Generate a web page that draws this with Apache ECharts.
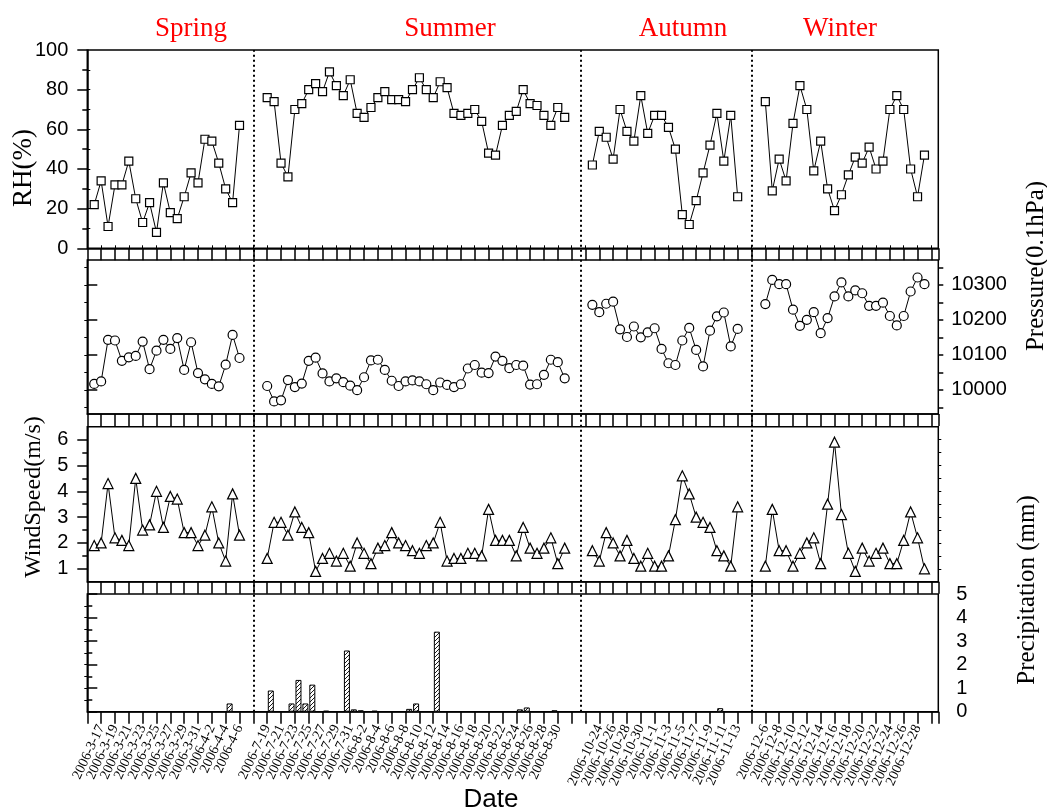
<!DOCTYPE html>
<html>
<head>
<meta charset="utf-8">
<script src="https://cdn.jsdelivr.net/npm/echarts@6/dist/echarts.min.js"></script>
<style>html,body{margin:0;padding:0;background:#fff}#chart{width:1047px;height:811px}</style>
</head>
<body>
<div id="chart"></div>
<script>
// ---------------- DATA ----------------
const seasons = ['Spring', 'Summer', 'Autumn', 'Winter'];

const springDates = ['2006-3-16','2006-3-17','2006-3-18','2006-3-19','2006-3-20','2006-3-21','2006-3-22','2006-3-23','2006-3-24','2006-3-25','2006-3-26','2006-3-27','2006-3-28','2006-3-29','2006-3-30','2006-3-31','2006-4-1','2006-4-2','2006-4-3','2006-4-4','2006-4-5','2006-4-6'];
const summerDates = ['2006-7-19','2006-7-20','2006-7-21','2006-7-22','2006-7-23','2006-7-24','2006-7-25','2006-7-26','2006-7-27','2006-7-28','2006-7-29','2006-7-30','2006-7-31','2006-8-1','2006-8-2','2006-8-3','2006-8-4','2006-8-5','2006-8-6','2006-8-7','2006-8-8','2006-8-9','2006-8-10','2006-8-11','2006-8-12','2006-8-13','2006-8-14','2006-8-15','2006-8-16','2006-8-17','2006-8-18','2006-8-19','2006-8-20','2006-8-21','2006-8-22','2006-8-23','2006-8-24','2006-8-25','2006-8-26','2006-8-27','2006-8-28','2006-8-29','2006-8-30','2006-8-31'];
const autumnDates = ['2006-10-23','2006-10-24','2006-10-25','2006-10-26','2006-10-27','2006-10-28','2006-10-29','2006-10-30','2006-10-31','2006-11-1','2006-11-2','2006-11-3','2006-11-4','2006-11-5','2006-11-6','2006-11-7','2006-11-8','2006-11-9','2006-11-10','2006-11-11','2006-11-12','2006-11-13'];
const winterDates = ['2006-12-6','2006-12-7','2006-12-8','2006-12-9','2006-12-10','2006-12-11','2006-12-12','2006-12-13','2006-12-14','2006-12-15','2006-12-16','2006-12-17','2006-12-18','2006-12-19','2006-12-20','2006-12-21','2006-12-22','2006-12-23','2006-12-24','2006-12-25','2006-12-26','2006-12-27','2006-12-28','2006-12-29'];

// Relative humidity (%)
const rhSpring = [22,34,11,32,32,44,25,13,23,8,33,18,15,26,38,33,55,54,43,30,23,62];
const rhSummer = [76,74,43,36,70,73,80,83,79,89,82,77,85,68,66,71,76,79,75,75,74,80,86,80,76,84,81,68,67,68,70,64,48,47,62,67,69,80,73,72,67,62,71,66];
const rhAutumn = [42,59,56,45,70,59,54,77,58,67,67,61,50,17,12,24,38,52,68,44,67,26];
const rhWinter = [74,29,45,34,63,82,70,39,54,30,19,27,37,46,43,51,40,44,70,77,70,40,26,47];

// Pressure (0.1 hPa)
const prsSpring = [10017,10024,10143,10141,10083,10093,10097,10138,10059,10112,10143,10117,10148,10057,10136,10048,10030,10017,10010,10072,10157,10091];
const prsSummer = [10011,9967,9970,10028,10008,10018,10083,10092,10047,10024,10033,10022,10012,9999,10036,10084,10086,10057,10026,10011,10024,10027,10024,10016,9999,10021,10014,10008,10016,10061,10071,10049,10048,10095,10083,10062,10071,10069,10015,10016,10043,10086,10079,10033];
const prsAutumn = [10243,10222,10246,10252,10173,10151,10181,10150,10164,10176,10117,10076,10071,10141,10177,10114,10067,10169,10210,10221,10124,10174];
const prsWinter = [10245,10314,10302,10302,10229,10183,10200,10222,10162,10205,10267,10307,10267,10284,10276,10240,10240,10249,10211,10184,10211,10281,10321,10302];

// Wind speed (m/s)
const wsSpring = [1.9,2.0,4.3,2.2,2.1,1.9,4.5,2.5,2.7,4.0,2.6,3.8,3.7,2.4,2.4,1.9,2.3,3.4,2.0,1.3,3.9,2.3];
const wsSummer = [1.4,2.8,2.8,2.3,3.2,2.6,2.4,0.9,1.4,1.6,1.3,1.6,1.1,2.0,1.6,1.2,1.8,1.9,2.4,2.0,1.9,1.7,1.6,1.9,2.0,2.8,1.3,1.4,1.4,1.6,1.6,1.5,3.3,2.1,2.1,2.1,1.5,2.6,1.8,1.6,1.8,2.2,1.2,1.8];
const wsAutumn = [1.7,1.3,2.4,2.0,1.5,2.1,1.4,1.1,1.6,1.1,1.1,1.5,2.9,4.6,3.9,3.0,2.8,2.6,1.7,1.5,1.1,3.4];
const wsWinter = [1.1,3.3,1.7,1.7,1.1,1.6,2.0,2.2,1.2,3.5,5.9,3.1,1.6,0.9,1.8,1.3,1.6,1.8,1.2,1.2,2.1,3.2,2.2,1.0];

// Precipitation (mm)
const pcSpring = [0,0,0,0,0,0,0,0,0,0,0,0,0,0,0,0,0,0,0,0,0,0.35];
const pcSummer = [0,0.9,0,0,0.35,1.35,0.35,1.15,0,0.04,0,0,2.6,0.1,0.06,0,0.04,0,0,0,0,0.12,0.35,0,0,3.4,0,0,0,0,0,0,0,0,0,0,0,0.1,0.18,0,0,0,0.06,0];
const pcAutumn = [0,0,0,0,0,0,0,0,0,0,0,0,0,0,0,0,0,0,0.15,0,0,0];
const pcWinter = [0,0,0,0,0,0,0,0,0,0,0,0,0,0,0,0,0,0,0,0,0,0,0,0];

// Tick labels
const rhTicks = [0,20,40,60,80,100];
const pressureTicks = [10000,10100,10200,10300];
const pressureMinorTicks = [9950,10000,10050,10100,10150,10200,10250,10300,10350];
const windTicks = [1,2,3,4,5,6];
const precipTicks = [0,1,2,3,4,5];

// ---------------- LAYOUT ----------------
const seasonSlot = [1, 26, 73, 98];   // x slot of each season's first day
const X_MAX = 123;
const dividerSlots = [24, 71.3, 96];
const L = 87.3, W = 851;

const allDates = [springDates, summerDates, autumnDates, winterDates];
const labelMap = {};
allDates.forEach((arr, s) => arr.forEach((d, i) => {
  const x = seasonSlot[s] + i;
  if (x % 2 === 0) labelMap[x] = d;
}));

const toXY = (vals, s) => vals.map((v, i) => [seasonSlot[s] + i, v]);
const toBars = (vals, s) => vals.map((v, i) => [seasonSlot[s] + i, v]).filter(p => p[1] > 0);

// hatch pattern
const hatch = document.createElement('canvas');
hatch.width = 4; hatch.height = 4;
(function () {
  const c = hatch.getContext('2d');
  c.fillStyle = '#fff'; c.fillRect(0, 0, 4, 4);
  c.strokeStyle = '#000'; c.lineWidth = 0.9;
  c.beginPath();
  c.moveTo(0, 4); c.lineTo(4, 0);
  c.moveTo(-1, 1); c.lineTo(1, -1);
  c.moveTo(3, 5); c.lineTo(5, 3);
  c.stroke();
})();

const SANS = 'Liberation Sans';
const SERIF = 'Liberation Serif';
const black = { color: '#000', width: 1.5 };

const grids = [
  { left: L, width: W, top: 50, height: 198.3 },
  { left: L, width: W, top: 260, height: 154 },
  { left: L, width: W, top: 426.7, height: 155 },
  { left: L, width: W, top: 594, height: 117.7 }
].map(g => Object.assign({ show: true, borderColor: '#000', borderWidth: 1.5, backgroundColor: 'transparent' }, g));
grids.push({ left: L, width: W, top: 50, height: 661.7, show: false });

const xAxes = [];
for (let i = 0; i < 4; i++) {
  xAxes.push({
    type: 'value', gridIndex: i, min: 0, max: X_MAX, interval: 2, position: 'bottom',
    axisLine: { show: true, lineStyle: black },
    axisTick: { show: true, length: 12, lineStyle: black },
    splitLine: { show: false },
    axisLabel: i === 3 ? {
      show: true, rotate: 65, margin: 14, fontFamily: SERIF, fontSize: 14, color: '#000',
      formatter: v => labelMap[v] || ''
    } : { show: false }
  });
}
// small mirrored ticks on top of the first panel
xAxes.push({
  type: 'value', gridIndex: 0, min: 0, max: X_MAX, interval: 2, position: 'top',
  axisLine: { show: false }, axisTick: { show: true, length: 3, lineStyle: { color: '#000', width: 1 } },
  axisLabel: { show: false }, splitLine: { show: false }
});
// overlay (index 5)
xAxes.push({ type: 'value', gridIndex: 4, min: 0, max: X_MAX, show: false });

const plain = v => String(v);
const lbl = (m) => ({ show: true, fontFamily: SANS, fontSize: 20, color: '#000', margin: m, formatter: plain });
const noLbl = { show: false };
const mini = (grid, pos, min, max, values) => ({
  type: 'value', gridIndex: grid, position: pos, min, max,
  axisLine: { show: false }, splitLine: { show: false }, axisLabel: noLbl,
  axisTick: { show: true, length: 3, customValues: values, lineStyle: { color: '#000', width: 1 } }
});
const range = (a, b, st) => { const o = []; for (let v = a; v <= b + 1e-9; v += st) o.push(+v.toFixed(3)); return o; };

const yAxes = [
  // 0 RH
  { type: 'value', gridIndex: 0, position: 'left', min: 0, max: 100, interval: 20,
    axisLine: { show: true, lineStyle: black },
    axisTick: { show: true, length: 10, lineStyle: black },
    minorTick: { show: true, splitNumber: 2, length: 5, lineStyle: { color: '#000', width: 1.5 } },
    axisLabel: Object.assign(lbl(19), { customValues: rhTicks }), splitLine: { show: false } },
  // 1 RH mirror
  mini(0, 'right', 0, 100, range(10, 90, 10)),
  // 2 Pressure
  { type: 'value', gridIndex: 1, position: 'right', min: 9931, max: 10371,
    axisLine: { show: true, lineStyle: black },
    axisTick: { show: true, length: 10, customValues: pressureTicks, lineStyle: black },
    axisLabel: Object.assign(lbl(13), { customValues: pressureTicks }), splitLine: { show: false } },
  // 3 Pressure minor
  { type: 'value', gridIndex: 1, position: 'right', min: 9931, max: 10371,
    axisLine: { show: false }, axisLabel: noLbl, splitLine: { show: false },
    axisTick: { show: true, length: 5, customValues: pressureMinorTicks, lineStyle: black } },
  // 4 Pressure mirror
  mini(1, 'left', 9931, 10371, pressureMinorTicks),
  // 5 Wind
  { type: 'value', gridIndex: 2, position: 'left', min: 0.5, max: 6.5,
    axisLine: { show: true, lineStyle: black },
    axisTick: { show: true, length: 10, customValues: windTicks, lineStyle: black },
    axisLabel: Object.assign(lbl(19), { customValues: windTicks }), splitLine: { show: false } },
  // 6 Wind minor
  { type: 'value', gridIndex: 2, position: 'left', min: 0.5, max: 6.5,
    axisLine: { show: false }, axisLabel: noLbl, splitLine: { show: false },
    axisTick: { show: true, length: 5, customValues: range(1.5, 6, 1), lineStyle: black } },
  // 7 Wind mirror
  mini(2, 'right', 0.5, 6.5, range(1, 6, 0.5)),
  // 8 Precip
  { type: 'value', gridIndex: 3, position: 'right', min: 0, max: 5, interval: 1,
    axisLine: { show: true, lineStyle: black },
    axisTick: { show: true, length: 10, lineStyle: black },
    minorTick: { show: true, splitNumber: 2, length: 5, lineStyle: { color: '#000', width: 1.5 } },
    axisLabel: Object.assign(lbl(18), { customValues: precipTicks }), splitLine: { show: false } },
  // 9 Precip mirror
  mini(3, 'left', 0, 5, range(0.5, 4.5, 0.5)),
  // 10 overlay
  { type: 'value', gridIndex: 4, min: 0, max: 1, show: false }
];

const series = [];
const lineSeries = (vals, s, xi, yi, symbol, size) => ({
  type: 'line', xAxisIndex: xi, yAxisIndex: yi, data: toXY(vals, s),
  symbol, symbolSize: size, showSymbol: true, animation: false, silent: true,
  lineStyle: { color: '#000', width: 1 },
  itemStyle: { color: '#fff', borderColor: '#000', borderWidth: 1.2 }
});
[rhSpring, rhSummer, rhAutumn, rhWinter].forEach((v, s) => series.push(lineSeries(v, s, 0, 0, 'rect', 8)));
[prsSpring, prsSummer, prsAutumn, prsWinter].forEach((v, s) => series.push(lineSeries(v, s, 1, 2, 'circle', 9)));
[wsSpring, wsSummer, wsAutumn, wsWinter].forEach((v, s) => series.push(lineSeries(v, s, 2, 5, 'triangle', 10)));
[pcSpring, pcSummer, pcAutumn, pcWinter].forEach((v, s) => series.push({
  type: 'bar', xAxisIndex: 3, yAxisIndex: 8, data: toBars(v, s), barWidth: 6, animation: false, silent: true,
  itemStyle: { color: { image: hatch, repeat: 'repeat' }, borderColor: '#000', borderWidth: 1 }
}));
series.push({
  type: 'scatter', xAxisIndex: 5, yAxisIndex: 10, data: [], silent: true, animation: false,
  markLine: {
    silent: true, symbol: 'none', animation: false, label: { show: false },
    lineStyle: { color: '#000', type: [2, 3], width: 2 },
    data: dividerSlots.map(x => ({ xAxis: x }))
  }
});

const seasonCenters = [191, 450, 683, 840];
const graphic = seasons.map((t, i) => ({
  type: 'text', x: seasonCenters[i], y: 29, silent: true,
  style: { text: t, fill: '#ff0000', font: '27px "Liberation Serif"', align: 'center', verticalAlign: 'middle' }
}));
const vTitle = (t, x, y, size) => ({
  type: 'text', x, y, rotation: Math.PI / 2, silent: true,
  style: { text: t, fill: '#000', font: size + 'px "Liberation Serif"', align: 'center', verticalAlign: 'middle' }
});
graphic.push(vTitle('RH(%)', 24, 168, 27));
graphic.push(vTitle('WindSpeed(m/s)', 34, 497, 24));
graphic.push(vTitle('Pressure(0.1hPa)', 1036, 266, 25));
graphic.push(vTitle('Precipitation (mm)', 1027, 590, 25));
graphic.push({
  type: 'text', x: 491, y: 800, silent: true,
  style: { text: 'Date', fill: '#000', font: '26px "Liberation Sans"', align: 'center', verticalAlign: 'middle' }
});

const chart = echarts.init(document.getElementById('chart'));
chart.setOption({
  animation: false,
  backgroundColor: '#fff',
  grid: grids,
  xAxis: xAxes,
  yAxis: yAxes,
  series,
  graphic
});
</script>
</body>
</html>
